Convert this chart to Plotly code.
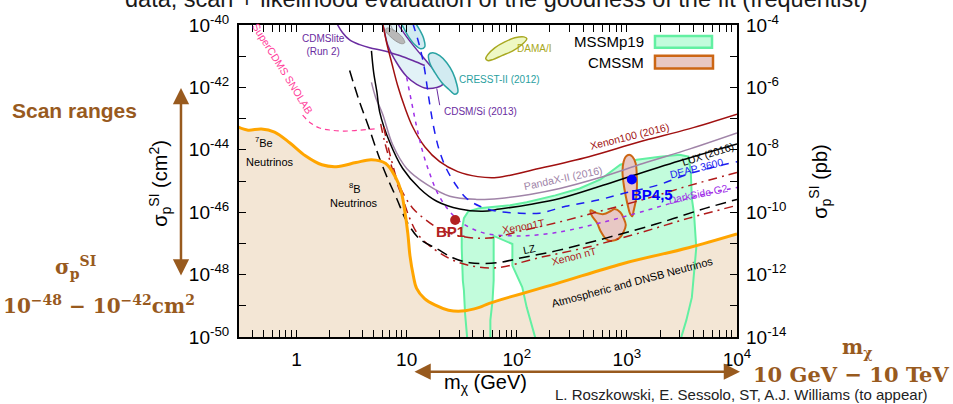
import numpy as np
import plotly.graph_objects as go

# ---------------- data: log10(mass / GeV), log10(sigma_SI / cm^2) ----------------
floor_lm = [-0.53,-0.44,-0.32,-0.20,-0.06,0.08,0.23,0.36,0.54,0.68,0.81,0.90,0.95,0.98,1.01,1.03,1.06,1.09,1.16,1.26,1.38,1.50,1.66,1.75,2.36,2.96,3.56,4.00]
floor_ls = [-43.27,-43.37,-43.33,-43.43,-43.78,-44.19,-44.48,-44.54,-44.41,-44.32,-44.44,-44.89,-45.33,-45.90,-46.67,-47.40,-48.03,-48.44,-48.76,-48.98,-49.14,-49.17,-49.05,-48.92,-48.29,-47.65,-47.14,-46.70]

mssm19_lm = [1.55,1.53,1.52,1.51,1.50,1.50,1.52,1.56,1.66,1.75,1.94,2.09,2.35,2.57,2.76,2.94,3.09,3.30,3.48,3.56,3.58,3.59,3.61,3.63,3.61,3.59,3.54,3.49,2.17,2.09,2.05,1.96,1.96,1.79,1.79,1.78,1.76,1.76,1.55]
mssm19_ls = [-50.05,-49.24,-48.51,-48.19,-47.14,-46.60,-46.19,-45.97,-45.87,-45.84,-45.78,-45.68,-45.46,-45.24,-44.95,-44.48,-44.32,-44.22,-44.16,-44.22,-44.70,-45.56,-46.06,-47.14,-47.87,-48.73,-49.46,-50.05,-50.05,-49.05,-48.41,-47.71,-47.02,-46.76,-48.19,-48.83,-49.46,-50.05,-50.05]

cmssm_a_lm = [3.02,3.05,3.08,3.09,3.09,3.08,3.06,3.05,3.03,3.01,2.99,2.97,2.96,2.97,2.99,3.02]
cmssm_a_ls = [-44.16,-44.22,-44.44,-44.86,-45.33,-45.65,-45.97,-46.13,-46.06,-45.81,-45.49,-45.08,-44.70,-44.38,-44.22,-44.16]
cmssm_b_lm = [2.67,2.73,2.79,2.85,2.89,2.94,2.97,2.99,2.97,2.93,2.85,2.81,2.76,2.73,2.68,2.67]
cmssm_b_ls = [-45.94,-46.03,-46.06,-45.97,-45.90,-46.00,-46.19,-46.41,-46.63,-46.83,-46.92,-46.86,-46.60,-46.35,-46.10,-45.94]

bp1 = (1.44, -46.25)
bp45 = (3.045, -44.95)

lux_lm = [0.68,0.70,0.73,0.755,0.845,0.964,1.118,1.273,1.482,1.691,1.845,2.118,2.391,2.755,3.0,3.509,4.0]
lux_ls = [-40.83,-41.52,-42.16,-42.79,-43.75,-44.60,-45.24,-45.65,-45.90,-45.97,-45.90,-45.75,-45.56,-45.17,-44.89,-44.32,-43.81]

pandax_lm = [0.68,0.718,0.782,0.873,1.0,1.182,1.391,1.636,1.845,2.118,2.391,2.755,3.145,3.573,4.0]
pandax_ls = [-41.84,-42.32,-42.86,-43.84,-44.60,-45.11,-45.49,-45.59,-45.56,-45.43,-45.24,-44.89,-44.44,-43.97,-43.46]

xenon100_lm = [0.782,0.818,0.864,0.918,0.982,1.055,1.164,1.30,1.464,1.645,1.818,2.20,2.655,3.109,3.564,4.0]
xenon100_ls = [-39.94,-40.57,-41.21,-41.94,-42.63,-43.27,-43.90,-44.38,-44.70,-44.86,-44.89,-44.60,-44.22,-43.75,-43.33,-42.86]

cdmslite_lm = [0.364,0.418,0.482,0.573,0.664,0.80,0.936,1.055,1.164]
cdmslite_ls = [-39.94,-40.25,-40.48,-40.63,-40.73,-40.83,-40.98,-41.14,-41.30]

cdmssi_lm = [0.764,0.791,0.827,0.909,1.0,1.091,1.182,1.273,1.327,1.273,1.182,1.091,1.0,0.927,0.90,0.764]
cdmssi_ls = [-39.78,-40.10,-40.63,-41.21,-41.65,-41.90,-42.03,-42.00,-41.90,-41.56,-41.17,-40.79,-40.38,-40.00,-39.78,-39.78]

cresst1_lm = [0.936,0.973,1.018,1.073,1.127,1.164,1.155,1.118,1.064,1.009,0.936]
cresst1_ls = [-39.78,-40.10,-40.38,-40.63,-40.76,-40.70,-40.44,-40.16,-39.87,-39.71,-39.78]
cresst2_lm = [1.20,1.236,1.30,1.364,1.418,1.455,1.464,1.436,1.382,1.318,1.255,1.209,1.20]
cresst2_ls = [-40.95,-40.89,-40.98,-41.21,-41.52,-41.90,-42.16,-42.22,-42.06,-41.84,-41.52,-41.21,-40.95]

cogent_lm = [0.818,0.864,0.918,0.964,0.982,0.955,0.90,0.845,0.809,0.818]
cogent_ls = [-40.10,-40.13,-40.25,-40.41,-40.57,-40.60,-40.51,-40.35,-40.19,-40.10]

dama_lm = [1.718,1.736,1.80,1.891,1.982,2.064,2.091,2.055,1.964,1.864,1.782,1.736,1.718]
dama_ls = [-41.08,-40.95,-40.73,-40.54,-40.41,-40.38,-40.44,-40.60,-40.83,-40.98,-41.11,-41.14,-41.08]

supercdms_lm = [0.055,0.127,0.209,0.309,0.436,0.573,0.709]
supercdms_ls = [-42.89,-43.14,-43.30,-43.37,-43.40,-43.37,-43.33]

lz_lm = [0.482,0.564,0.655,0.755,0.827,0.909,1.0,1.118,1.273,1.418,1.573,1.818,2.045,2.355,2.809,3.264,3.718,4.0]
lz_ls = [-41.46,-42.38,-43.27,-44.29,-44.92,-45.56,-46.29,-46.86,-47.17,-47.46,-47.62,-47.62,-47.46,-47.24,-46.83,-46.38,-45.87,-45.59]

xenonnt_lm = [0.764,0.80,0.845,0.90,0.964,1.027,1.10,1.209,1.391,1.573,1.818,2.20,2.655,3.109,3.564,4.0]
xenonnt_ls = [-43.17,-43.75,-44.32,-44.95,-45.56,-46.19,-46.70,-47.08,-47.49,-47.71,-47.78,-47.46,-47.11,-46.67,-46.19,-45.78]

xenon1t_lm = [0.791,0.827,0.873,0.918,0.982,1.055,1.164,1.30,1.482,1.745,2.073,2.382,2.755,3.182,3.573,4.0]
xenon1t_ls = [-43.27,-43.84,-44.48,-45.02,-45.49,-45.87,-46.22,-46.54,-46.76,-46.83,-46.57,-46.32,-45.97,-45.56,-45.14,-44.73]

darkside_lm = [1.0,1.045,1.091,1.145,1.209,1.282,1.373,1.482,1.60,1.745,2.027,2.264,2.482,2.818,3.091,3.364,3.664,4.0]
darkside_ls = [-41.68,-42.48,-43.27,-44.06,-44.76,-45.40,-45.90,-46.29,-46.54,-46.70,-46.76,-46.70,-46.57,-46.29,-46.03,-45.75,-45.46,-45.21]

deap_lm = [1.055,1.109,1.155,1.20,1.245,1.30,1.364,1.455,1.545,1.664,1.818,2.027,2.209,2.445,2.727,3.0,3.273,3.60,4.0]
deap_ls = [-39.94,-40.57,-41.27,-42.32,-43.27,-44.06,-44.63,-45.17,-45.56,-45.81,-45.97,-46.03,-46.03,-45.81,-45.62,-45.37,-45.14,-44.73,-44.38]

y_exponents = list(range(-50, -39))
y2_exponents = list(range(-14, -3))
x_ticks = [1, 10, 100, 1000, 10000]
x_ticktext = ['1', '10', '10<sup>2</sup>', '10<sup>3</sup>', '10<sup>4</sup>']

# ---------------- styling ----------------
BROWN = '#985a1e'
FONT = 'Liberation Sans'
SERIF = 'DejaVu Serif'


def xy(lm, ls):
    return 10 ** np.array(lm, dtype=float), 10 ** np.array(ls, dtype=float)


fig = go.Figure()


def poly(lm, ls, fill=None, line=None, width=1.5, dash=None, shape='linear'):
    x, y = xy(lm, ls)
    kw = dict(x=x, y=y, mode='lines', hoverinfo='skip', showlegend=False)
    if fill is not None:
        kw['fill'] = 'toself'
        kw['fillcolor'] = fill
    if line is None:
        kw['line'] = dict(width=0, color='rgba(0,0,0,0)')
    else:
        kw['line'] = dict(width=width, color=line, dash=dash, shape=shape)
    fig.add_trace(go.Scatter(**kw))


# MSSMp19 fill (under the neutrino floor)
poly(mssm19_lm, mssm19_ls, fill='#c2fcdc')
# neutrino floor fill
poly(floor_lm + [4.0, -0.53], floor_ls + [-51, -51], fill='#f3e6d5')
# MSSMp19 outline
poly(mssm19_lm, mssm19_ls, line='#62f0a2', width=2)

# CMSSM regions
poly(cmssm_a_lm, cmssm_a_ls, fill='#e8c8c4', line='#cc6614', width=2, shape='spline')
poly(cmssm_b_lm, cmssm_b_ls, fill='#e8c8c4', line='#cc6614', width=2, shape='spline')

# signal regions
poly(cdmssi_lm, cdmssi_ls, fill='#e2f2f7', line='#6a2ca0', width=1.5, shape='spline')
poly(cresst1_lm, cresst1_ls, fill='#d2ebf1', line='#2aa3a3', width=1.5, shape='spline')
poly(cresst2_lm, cresst2_ls, fill='#d2ebf1', line='#2aa3a3', width=1.5, shape='spline')
poly(cogent_lm, cogent_ls, fill='#b8b8b8', line='#999999', width=1, shape='spline')
poly(dama_lm, dama_ls, fill='#eef8c4', line='#a8a820', width=1.5, shape='spline')

# limits
poly(cdmslite_lm, cdmslite_ls, line='#6a2ca0', width=1.5, shape='spline')
poly(xenon100_lm, xenon100_ls, line='#a01010', width=1.5, shape='spline')
poly(pandax_lm, pandax_ls, line='#a084a8', width=1.5, shape='spline')
poly(lux_lm, lux_ls, line='black', width=1.5, shape='spline')
poly(supercdms_lm, supercdms_ls, line='#ff3d9a', width=1.2, dash='5px,4px', shape='spline')

# projections
poly(deap_lm, deap_ls, line='#1c1cf0', width=1.5, dash='8px,7px', shape='spline')
poly(darkside_lm, darkside_ls, line='#a030e8', width=1.5, dash='4px,5px', shape='spline')
poly(xenon1t_lm, xenon1t_ls, line='#b01a1a', width=1.5, dash='9px,5px,2px,5px', shape='spline')
poly(xenonnt_lm, xenonnt_ls, line='#b01a1a', width=1.5, dash='9px,5px,2px,5px', shape='spline')
poly(lz_lm, lz_ls, line='black', width=1.5, dash='11px,6px', shape='spline')

# pointers
poly([1.273, 1.30], [-42.03, -42.57], line='#6a2ca0', width=1)
poly([0.84, 0.88], [-39.9, -40.2], line='#999999', width=1)

# neutrino floor line
poly(floor_lm, floor_ls, line='#ffa500', width=3, shape='spline')

# benchmark points
bx, by = xy([bp1[0]], [bp1[1]])
fig.add_trace(go.Scatter(x=bx, y=by, mode='markers', marker=dict(size=10, color='#b22222'),
                         hoverinfo='skip', showlegend=False))
bx, by = xy([bp45[0]], [bp45[1]])
fig.add_trace(go.Scatter(x=bx, y=by, mode='markers', marker=dict(size=10, color='#0000ff'),
                         hoverinfo='skip', showlegend=False))

# invisible trace for the right (pb) axis
fig.add_trace(go.Scatter(x=[1.0], y=[1e-10], yaxis='y2', mode='markers',
                         marker=dict(opacity=0), hoverinfo='skip', showlegend=False))

ann = []


def txt(x, y, s, color='black', size=10, angle=0, ref='data', **kw):
    d = dict(x=x, y=y, text=s, showarrow=False, textangle=angle,
             font=dict(family=kw.pop('family', FONT), size=size, color=color),
             xanchor=kw.pop('xanchor', 'center'), yanchor=kw.pop('yanchor', 'middle'))
    if ref == 'data':
        d.update(xref='x', yref='y')
    else:
        d.update(xref='paper', yref='paper')
    d.update(kw)
    ann.append(d)


# title & credits (title partly outside the page, as in the reference)
txt(0.518, 1.083, 'data, scan + likelihood evaluation of the goodness of the fit (frequentist)',
    '#1a1a1a', 23.5, ref='paper')
txt(1.010, -0.185, 'L. Roszkowski, E. Sessolo, ST, A.J. Williams (to appear)', '#222222', 15, ref='paper')

# in-plot labels (annotation positions are log10 on log axes)
txt(0.245, -40.63, 'CDMSlite<br>(Run 2)', '#6a2ca0', 10)
txt(0.72, -39.63, 'CoGeNT (2013)', '#999999', 10)
txt(1.845, -41.75, 'CRESST-II (2012)', '#2aa0a0', 10)
txt(1.673, -42.76, 'CDSM/Si (2013)', '#6a2ca0', 10)
txt(2.155, -40.76, 'DAMA/I', '#a8a820', 10)
txt(-0.127, -41.37, 'SuperCDMS SNOLAB', '#ff3d9a', 10.5, angle=58)
txt(3.027, -43.56, 'Xenon100 (2016)', '#a01010', 10.5, angle=-14)
txt(2.418, -44.89, 'PandaX-II (2016)', '#a084a8', 10.5, angle=-12)
txt(3.736, -44.13, 'LUX (2016)', 'black', 10.5, angle=-18)
txt(3.636, -44.57, 'DEAP 3600', '#1c1cf0', 10.5, angle=-14)
txt(3.645, -45.43, 'DarkSide G2', '#a030e8', 10.5, angle=-12)
txt(2.064, -46.44, 'Xenon1T', '#b01a1a', 10.5, angle=-10)
txt(2.118, -47.17, 'LZ', 'black', 10.5, angle=-12)
txt(2.518, -47.40, 'Xenon nT', '#b01a1a', 10.5, angle=-14)
txt(3.055, -48.25, 'Atmospheric and DNSB Neutrinos', 'black', 11, angle=-15)
txt(-0.30, -43.75, '<sup>7</sup>Be', 'black', 11)
txt(-0.24, -44.38, 'Neutrinos', 'black', 11)
txt(0.535, -45.21, '<sup>8</sup>B', 'black', 11)
txt(0.518, -45.71, 'Neutrinos', 'black', 11)
txt(bp1[0] - 0.04, -46.63, '<b>BP1</b>', '#b22222', 15)
txt(bp45[0] + 0.18, -45.43, '<b>BP4,5</b>', '#0000ff', 15)

# legend
txt(0.8173, 0.946, 'MSSMp19', 'black', 15, ref='paper', xanchor='right')
txt(0.8173, 0.880, 'CMSSM', 'black', 15, ref='paper', xanchor='right')

# axis titles
txt(0.494, -0.150, 'm<sub>χ</sub> (GeV)', 'black', 20, ref='paper')
txt(-0.158, 0.492, 'σ<sub>p</sub><sup>SI</sup> (cm<sup>2</sup>)', 'black', 20, angle=-90, ref='paper')
txt(1.167, 0.498, 'σ<sub>p</sub><sup>SI</sup> (pb)', 'black', 20, angle=-90, ref='paper')

# scan-range annotations
txt(-0.331, 0.727, '<b>Scan ranges</b>', BROWN, 21, ref='paper')
txt(-0.329, 0.222, '<b>σ<sub>p</sub><sup>SI</sup></b>', BROWN, 20, ref='paper', family=SERIF)
txt(-0.281, 0.102, '<b>10<sup>−48</sup> − 10<sup>−42</sup>cm<sup>2</sup></b>', BROWN, 20, ref='paper', family=SERIF)
txt(1.241, -0.034, '<b>m<sub>χ</sub></b>', BROWN, 20, ref='paper', family=SERIF)
txt(1.229, -0.121, '<b>10 GeV − 10 TeV</b>', BROWN, 21, ref='paper', family=SERIF)

# arrows
ann.append(dict(x=-0.1165, y=0.197, xref='paper', yref='paper', ax=0, ay=-189, axref='pixel', ayref='pixel',
                text='', showarrow=True, arrowhead=2, arrowside='end+start', arrowsize=1.3,
                arrowwidth=2.5, arrowcolor=BROWN, standoff=0, startstandoff=0))
ann.append(dict(x=1.006, y=-0.111, xref='paper', yref='paper', ax=-327, ay=0, axref='pixel', ayref='pixel',
                text='', showarrow=True, arrowhead=2, arrowside='end+start', arrowsize=1.3,
                arrowwidth=2.5, arrowcolor=BROWN, standoff=0, startstandoff=0))

shapes = [
    dict(type='rect', xref='paper', yref='paper', x0=0.8353, x1=0.9498, y0=0.927, y1=0.965,
         fillcolor='#c2fcdc', line=dict(color='#62f0a2', width=2.5)),
    dict(type='rect', xref='paper', yref='paper', x0=0.8353, x1=0.9518, y0=0.8603, y1=0.9016,
         fillcolor='#e8c8c4', line=dict(color='#cc6614', width=2.5)),
]

minor_x = [d * 10 ** k for k in range(-1, 4) for d in range(2, 10) if 0.3 <= d * 10 ** k <= 10000]
tickfont = dict(family=FONT, size=19, color='black')

fig.update_layout(
    width=953, height=404,
    margin=dict(l=239, r=216, t=22, b=67),
    paper_bgcolor='white', plot_bgcolor='white',
    showlegend=False,
    annotations=ann, shapes=shapes,
    xaxis=dict(type='log', range=[np.log10(0.3), 4], tickvals=x_ticks, ticktext=x_ticktext,
               ticks='inside', ticklen=7, tickwidth=1, tickcolor='black',
               minor=dict(tickvals=minor_x, ticks='inside', ticklen=4, tickcolor='black', showgrid=False),
               showline=True, linecolor='black', linewidth=2, mirror='allticks',
               showgrid=False, zeroline=False, tickfont=tickfont, ticklabelstandoff=4),
    yaxis=dict(type='log', range=[-50, -40], tickvals=[10.0 ** e for e in y_exponents],
               ticktext=['10<sup>%d</sup>' % e if e % 2 == 0 else '' for e in y_exponents],
               ticks='inside', ticklen=7, tickwidth=1, tickcolor='black',
               showline=True, linecolor='black', linewidth=2, mirror='allticks',
               showgrid=False, zeroline=False, tickfont=tickfont, ticklabelstandoff=4),
    yaxis2=dict(type='log', range=[-14, -4], overlaying='y', side='right',
                tickvals=[10.0 ** e for e in y2_exponents],
                ticktext=['10<sup>%d</sup>' % e if e % 2 == 0 else '' for e in y2_exponents],
                ticks='', showline=False, showgrid=False, zeroline=False,
                tickfont=tickfont, ticklabelstandoff=8),
)

fig.write_html('out.html')
